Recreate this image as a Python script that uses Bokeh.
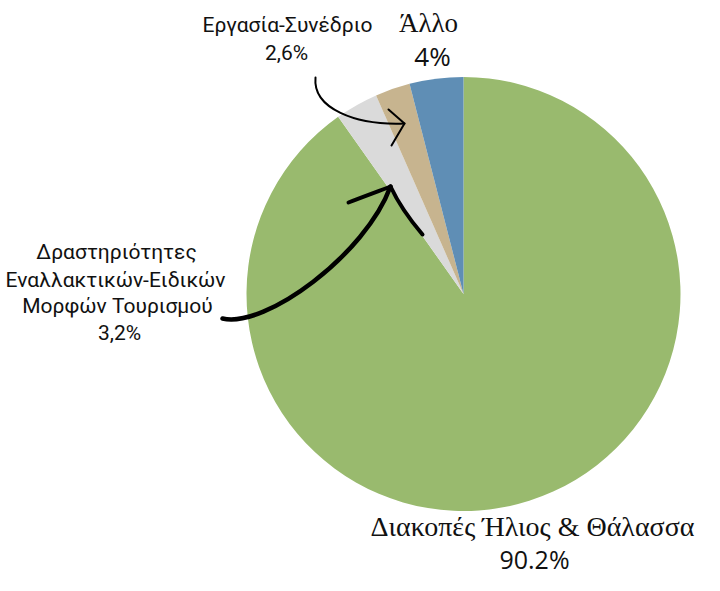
from math import pi
from bokeh.plotting import figure
from bokeh.models import Range1d, ColumnDataSource
from bokeh.core.properties import value
from bokeh.embed import file_html
from bokeh.resources import INLINE

# ---- data ----
categories = ["Διακοπές Ήλιος & Θάλασσα",
              "Δραστηριότητες Εναλλακτικών-Ειδικών Μορφών Τουρισμού",
              "Εργασία-Συνέδριο", "Άλλο"]
shares = [90.2, 3.2, 2.6, 4.0]
colors = ["#99BA6E", "#DADADA", "#C7B48F", "#5F8EB5"]

W, H = 704, 575

def Y(py):
    return H - py

p = figure(width=W, height=H, output_backend="svg", toolbar_location=None,
           x_range=Range1d(0, W), y_range=Range1d(0, H), min_border=0)
p.axis.visible = False
p.grid.visible = False
p.outline_line_color = None

# pie
cx, cy, r = 463, Y(293.5), 217
total = sum(shares)
starts, ends = [], []
cum = 0.0
for s in shares:
    starts.append(pi / 2 - 2 * pi * cum / total)
    cum += s
    ends.append(pi / 2 - 2 * pi * cum / total)
src = ColumnDataSource(dict(start=starts, end=ends, color=colors, cat=categories))
p.wedge(x=cx, y=cy, radius=r, start_angle="start", end_angle="end",
        direction="clock", fill_color="color", line_color=None, source=src)

# labels
cond = value("Roboto")
serif = value("Liberation Serif")
sans = value("Open Sans")
DY = 8

def txt(x, py, t, font, size):
    p.text(x=[x], y=[Y(py - DY)], text=[t], text_font=font, text_font_size=size,
           text_align="center", text_baseline="alphabetic", text_color="#111111")

txt(287, 32, "Εργασία-Συνέδριο", cond, "21px")
txt(286, 60, "2,6%", cond, "21px")
txt(428, 30, "Άλλο", serif, "27px")
txt(432, 63, "4%", sans, "26px")
txt(116, 259, "Δραστηριότητες", cond, "21px")
txt(115, 287, "Εναλλακτικών-Ειδικών", cond, "21px")
txt(117, 313, "Μορφών Τουρισμού", cond, "21px")
txt(119, 340, "3,2%", cond, "21px")
txt(532, 534, "Διακοπές Ήλιος & Θάλασσα", serif, "28px")
txt(534, 566, "90.2%", sans, "25px")

# arrows (annotations)
p.bezier(x0=[315], y0=[Y(77)], x1=[404], y1=[Y(123)],
         cx0=[312], cy0=[Y(108)], cx1=[355], cy1=[Y(125)],
         line_color="black", line_width=2, line_cap="round")
p.line(x=[388, 404, 391], y=[Y(109), Y(123), Y(145)], line_color="black",
       line_width=2, line_cap="round", line_join="round")

p.bezier(x0=[222], y0=[Y(318)], x1=[390], y1=[Y(186)],
         cx0=[265], cy0=[Y(328)], cx1=[365], cy1=[Y(254)],
         line_color="black", line_width=4.5, line_cap="round")
p.bezier(x0=[348], y0=[Y(202)], x1=[390], y1=[Y(186)],
         cx0=[366], cy0=[Y(195)], cx1=[380], cy1=[Y(190)],
         line_color="black", line_width=4, line_cap="round")
p.bezier(x0=[390], y0=[Y(186)], x1=[422], y1=[Y(234)],
         cx0=[398], cy0=[Y(203)], cx1=[410], cy1=[Y(220)],
         line_color="black", line_width=4, line_cap="round")

open("out.html", "w").write(file_html(p, INLINE))
